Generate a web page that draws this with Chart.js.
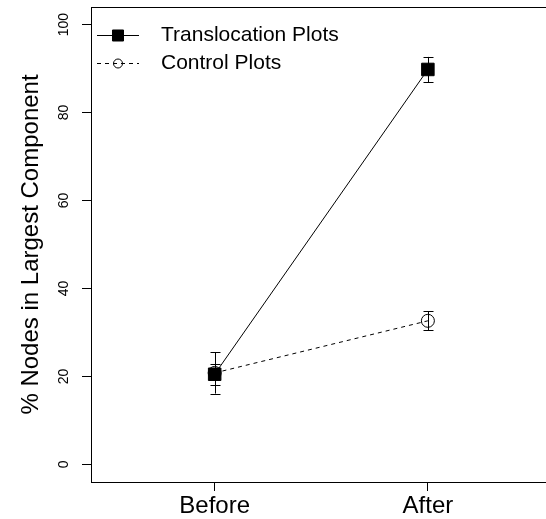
<!DOCTYPE html>
<html>
<head>
<meta charset="utf-8">
<script src="https://cdn.jsdelivr.net/npm/chart.js@4.4.1/dist/chart.umd.min.js"></script>
<style>
  html, body { margin: 0; padding: 0; background: #fff; overflow: hidden; }
  canvas { display: block; }
</style>
</head>
<body>
<canvas id="nodes-chart" width="546" height="519"></canvas>
<script>
const periods = ['Before', 'After'];
const seriesNames = ['Translocation Plots', 'Control Plots'];
const translocationMeans = [20.5, 89.8];
const translocationErrors = [2.4, 2.85];
const controlMeans = [20.8, 32.65];
const controlErrors = [4.7, 2.15];
const yTicks = [0, 20, 40, 60, 80, 100];

const FONT = "'Liberation Sans', Arial, sans-serif";

function toPoints(means, errors) {
    return periods.map((p, i) => ({ x: i + 1, y: means[i], err: errors[i] }));
}

// error bars drawn from each point's err value
const errorBars = {
    id: 'errorBars',
    afterDatasetsDraw(chart) {
        const ctx = chart.ctx;
        const yScale = chart.scales.y;
        ctx.save();
        ctx.strokeStyle = '#000';
        ctx.lineWidth = 1;
        chart.data.datasets.forEach((ds, i) => {
            const meta = chart.getDatasetMeta(i);
            meta.data.forEach((pt, j) => {
                const d = ds.data[j];
                const x = Math.round(pt.x) + 0.5;
                const hi = yScale.getPixelForValue(d.y + d.err);
                const lo = yScale.getPixelForValue(d.y - d.err);
                ctx.beginPath();
                ctx.moveTo(x, hi);
                ctx.lineTo(x, lo);
                ctx.moveTo(x - 5, Math.round(hi) + 0.5);
                ctx.lineTo(x + 5, Math.round(hi) + 0.5);
                ctx.moveTo(x - 5, Math.round(lo) + 0.5);
                ctx.lineTo(x + 5, Math.round(lo) + 0.5);
                ctx.stroke();
            });
        });
        ctx.restore();
    }
};

// top edge of the plot box
const frame = {
    id: 'frame',
    afterDraw(chart) {
        const { ctx, chartArea } = chart;
        ctx.save();
        ctx.strokeStyle = '#000';
        ctx.lineWidth = 1;
        ctx.beginPath();
        ctx.moveTo(chartArea.left, Math.round(chartArea.top) + 0.5);
        ctx.lineTo(chartArea.right, Math.round(chartArea.top) + 0.5);
        ctx.stroke();
        ctx.restore();
    }
};

// legend with line + marker samples, like the R legend
const boxLegend = {
    id: 'boxLegend',
    afterDraw(chart) {
        const ctx = chart.ctx;
        const rows = [35, 63];
        const legendRadius = [7.8, 4.5];
        ctx.save();
        chart.data.datasets.forEach((ds, i) => {
            const y = rows[i] + 0.5;
            ctx.strokeStyle = '#000';
            ctx.lineWidth = 1;
            ctx.setLineDash(ds.borderDash || []);
            ctx.beginPath();
            ctx.moveTo(97, y);
            ctx.lineTo(139, y);
            ctx.stroke();
            ctx.setLineDash([]);
            ctx.fillStyle = ds.pointBackgroundColor;
            Chart.helpers.drawPoint(ctx, {
                pointStyle: ds.pointStyle,
                radius: legendRadius[i],
                borderWidth: 1,
                rotation: 0
            }, 118, y);
            ctx.fillStyle = '#000';
            ctx.font = '21px ' + FONT;
            ctx.textBaseline = 'middle';
            ctx.textAlign = 'left';
            ctx.fillText(ds.label, 161, y);
        });
        ctx.restore();
    }
};

const ctx = document.getElementById('nodes-chart').getContext('2d');
const nodesChart = new Chart(ctx, {
    type: 'line',
    data: {
        datasets: [{
            label: seriesNames[0],
            data: toPoints(translocationMeans, translocationErrors),
            borderColor: '#000',
            borderWidth: 1,
            pointStyle: 'rect',
            pointRadius: 8.85,
            pointBackgroundColor: '#000',
            pointBorderColor: '#000',
            pointBorderWidth: 1,
            tension: 0
        }, {
            label: seriesNames[1],
            data: toPoints(controlMeans, controlErrors),
            borderColor: '#000',
            borderWidth: 1,
            borderDash: [4, 4],
            pointStyle: 'circle',
            pointRadius: 6.5,
            pointBackgroundColor: 'rgba(255,255,255,0)',
            pointBorderColor: '#000',
            pointBorderWidth: 1,
            tension: 0
        }]
    },
    options: {
        responsive: false,
        animation: false,
        events: [],
        layout: { autoPadding: false, padding: { top: 7, right: 0, left: 0, bottom: 0 } },
        plugins: {
            legend: { display: false },
            tooltip: { enabled: false }
        },
        scales: {
            x: {
                type: 'linear',
                min: 0.42,
                max: 2.554,
                afterBuildTicks: (scale) => {
                    scale.ticks = periods.map((p, i) => ({ value: i + 1 }));
                },
                afterFit: (scale) => {
                    scale.height = 37;
                    scale.paddingLeft = 0;
                    scale.paddingRight = 0;
                },
                grid: { display: true, drawOnChartArea: false, drawTicks: true, tickLength: 9, color: '#000' },
                border: { display: true, color: '#000', width: 1 },
                ticks: {
                    color: '#000',
                    font: { family: FONT, size: 24 },
                    padding: 1,
                    maxRotation: 0,
                    autoSkip: false,
                    callback: (v) => periods[v - 1] || ''
                }
            },
            y: {
                type: 'linear',
                min: -4,
                max: 104,
                afterBuildTicks: (scale) => {
                    scale.ticks = yTicks.map(v => ({ value: v }));
                },
                afterFit: (scale) => {
                    scale.width = 91;
                    scale.paddingTop = 0;
                    scale.paddingBottom = 0;
                },
                grid: { display: true, drawOnChartArea: false, drawTicks: true, tickLength: 9, color: '#000' },
                border: { display: true, color: '#000', width: 1 },
                ticks: {
                    color: '#000',
                    font: { family: FONT, size: 14 },
                    minRotation: 90,
                    maxRotation: 90,
                    crossAlign: 'center',
                    padding: 6
                },
                title: {
                    display: true,
                    text: '% Nodes in Largest Component',
                    color: '#000',
                    font: { family: FONT, size: 24 },
                    padding: { top: 17, bottom: 0 }
                }
            }
        }
    },
    plugins: [errorBars, frame, boxLegend]
});
</script>
</body>
</html>
